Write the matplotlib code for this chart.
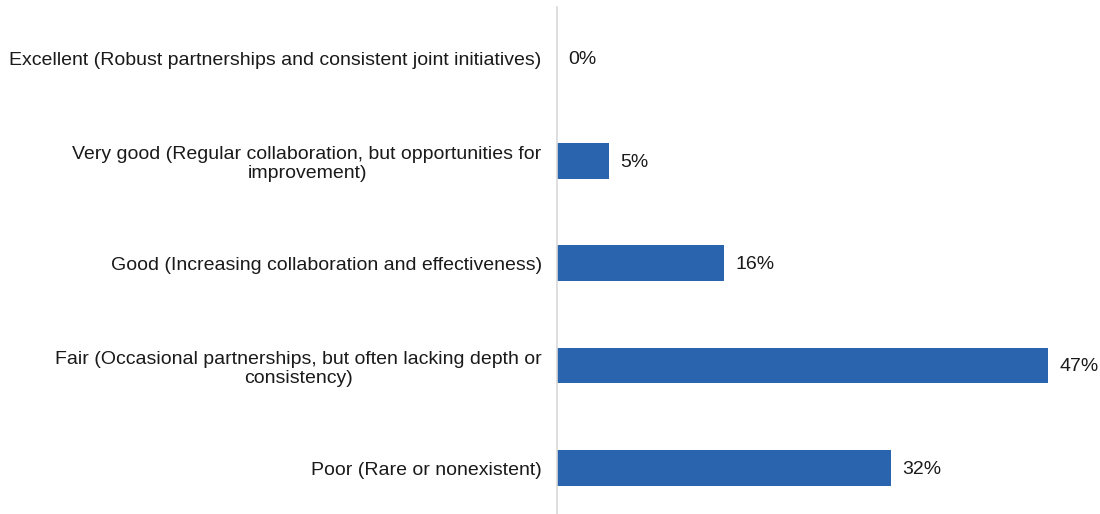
import numpy as np
import matplotlib.pyplot as plt

plt.rcParams['font.family'] = ['Liberation Sans', 'DejaVu Sans']

categories = [
    "Excellent (Robust partnerships and consistent joint initiatives)",
    "Very good (Regular collaboration, but opportunities for\nimprovement)",
    "Good (Increasing collaboration and effectiveness)",
    "Fair (Occasional partnerships, but often lacking depth or\nconsistency)",
    "Poor (Rare or nonexistent)",
]
values = [0, 5, 16, 47, 32]
value_labels = ["0%", "5%", "16%", "47%", "32%"]

fig = plt.figure(figsize=(11, 5.14), dpi=100)
ax = fig.add_axes([557 / 1100, 0, (1090 - 557) / 1100, 1 - 7 / 514])

y = np.arange(len(categories))
ax.barh(y, values, height=0.35, color='#2A63AE', edgecolor='none')

ax.set_ylim(4.449, -0.5)
ax.set_xlim(0, 51)
ax.set_yticks(y)
ax.set_yticklabels(categories, fontsize=14, color='#1a1a1a', linespacing=1.2)
for t in ax.get_yticklabels():
    t.set_multialignment('center')
ax.tick_params(axis='y', length=0, pad=11)
ax.set_xticks([])

for s in ['top', 'right', 'bottom']:
    ax.spines[s].set_visible(False)
ax.spines['left'].set_color('#d9d9d9')
ax.spines['left'].set_linewidth(1.2)

for yi, v, lab in zip(y, values, value_labels):
    ax.annotate(lab, (v, yi), xytext=(8, -1), textcoords='offset points',
                va='center', ha='left', fontsize=14, color='#1a1a1a')

fig.savefig('out.png', dpi=100)
